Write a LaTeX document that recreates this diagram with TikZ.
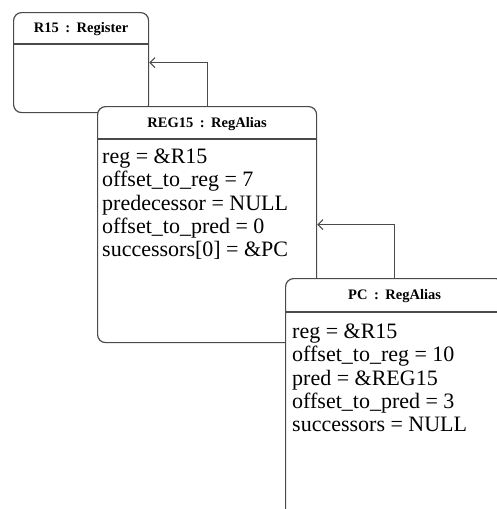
\documentclass[tikz,border=0pt]{standalone}
\usepackage{fontspec}
\setmainfont{Liberation Serif}
\usetikzlibrary{arrows.meta,calc}
\definecolor{edge}{HTML}{4A4A4A}
\newcommand{\ofsep}{\hspace{0.45em}:\hspace{0.45em}}
\begin{document}
\begin{tikzpicture}[x=1pt,y=-1pt,
  objbox/.style={draw=edge,line width=1.2pt,fill=white,rounded corners=8pt,
    rectangle,anchor=north west,inner sep=0pt},
  objtitle/.style={font=\fontsize{14.5}{16}\selectfont\bfseries,anchor=center,inner sep=0pt},
  attrs/.style={font=\fontsize{22}{23.1}\selectfont,align=left,anchor=north west,inner sep=0pt},
  sep/.style={draw=edge,line width=1.2pt},
  link/.style={draw=edge,line width=1.1pt,-{Straight Barb[length=5pt,width=10pt]}}
]
\useasboundingbox (0,0) rectangle (496,509);

% R15 : Register
\node[objbox,minimum width=135pt,minimum height=100pt] (r15) at (13,12) {};
\node[objtitle] (r15t) at ($(r15.north)+(0,17)$) {R15\ofsep Register};
\draw[sep] ($(r15.north west)+(0,32)$) -- ($(r15.north east)+(0,32)$);

% REG15 : RegAlias
\node[objbox,minimum width=219pt,minimum height=236pt] (reg15) at (97,106) {};
\node[objtitle] (reg15t) at ($(reg15.north)+(0,18)$) {REG15\ofsep RegAlias};
\draw[sep] ($(reg15.north west)+(0,33)$) -- ($(reg15.north east)+(0,33)$);
\node[attrs] (reg15a) at ($(reg15.north west)+(5,43)$) {reg = \&R15\\offset\_to\_reg = 7\\predecessor = NULL\\offset\_to\_pred = 0\\successors[0] = \&PC};

% PC : RegAlias
\node[objbox,minimum width=218pt,minimum height=260pt] (pc) at (285,278) {};
\node[objtitle] (pct) at ($(pc.north)+(0,18)$) {PC\ofsep RegAlias};
\draw[sep] ($(pc.north west)+(0,34)$) -- ($(pc.north east)+(0,34)$);
\node[attrs] (pca) at ($(pc.north west)+(7,46)$) {reg = \&R15\\offset\_to\_reg = 10\\pred = \&REG15\\offset\_to\_pred = 3\\successors = NULL};

% alias links
\draw[link] (reg15.north) |- (r15.east);
\draw[link] (pc.north) |- (reg15.east);
\end{tikzpicture}
\end{document}
